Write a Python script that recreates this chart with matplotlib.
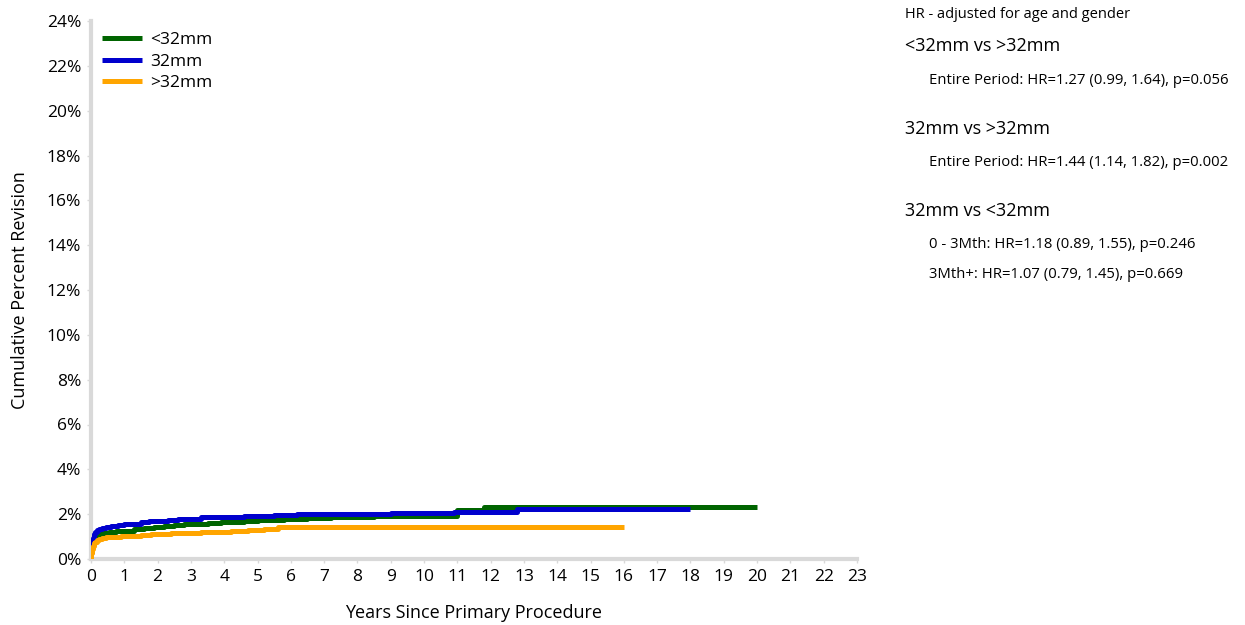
import matplotlib
matplotlib.use("Agg")
import matplotlib.pyplot as plt

plt.rcParams['font.family'] = ['Open Sans', 'DejaVu Sans']

# cumulative percent revision (step curves)
t_small = [0, 0.01, 0.03, 0.05, 0.08, 0.12, 0.17, 0.24, 0.32, 0.42, 0.55, 0.75, 1.0, 1.3, 1.6, 1.9, 2.2, 2.5, 2.8, 3.1, 3.5, 3.9, 4.2, 4.6, 5.0, 5.4, 5.8, 6.5, 7.2, 8.5, 11.0, 11.8, 20.0]
v_small = [0, 0.3, 0.55, 0.72, 0.85, 0.95, 1.03, 1.1, 1.15, 1.18, 1.21, 1.24, 1.27, 1.32, 1.37, 1.42, 1.48, 1.52, 1.55, 1.57, 1.6, 1.63, 1.66, 1.7, 1.73, 1.76, 1.78, 1.83, 1.87, 1.92, 2.17, 2.3, 2.3]

t_32 = [0, 0.01, 0.03, 0.05, 0.08, 0.12, 0.17, 0.24, 0.32, 0.45, 0.6, 0.8, 1.0, 1.2, 1.5, 1.75, 2.0, 2.3, 2.6, 2.9, 3.3, 4.0, 4.6, 5.0, 5.5, 6.2, 9.0, 10.9, 12.8, 18.0]
v_32 = [0, 0.45, 0.75, 0.95, 1.1, 1.2, 1.28, 1.34, 1.39, 1.43, 1.47, 1.51, 1.54, 1.58, 1.63, 1.68, 1.71, 1.74, 1.77, 1.8, 1.86, 1.88, 1.9, 1.93, 1.96, 2.0, 2.05, 2.1, 2.22, 2.22]

t_big = [0, 0.01, 0.03, 0.05, 0.08, 0.12, 0.17, 0.24, 0.32, 0.45, 0.65, 0.9, 1.2, 1.5, 1.8, 2.1, 2.4, 2.8, 3.3, 3.7, 4.2, 4.7, 5.2, 5.6, 16.0]
v_big = [0, 0.25, 0.45, 0.6, 0.7, 0.78, 0.84, 0.89, 0.93, 0.96, 0.99, 1.02, 1.04, 1.07, 1.1, 1.13, 1.15, 1.17, 1.19, 1.22, 1.27, 1.3, 1.33, 1.42, 1.42]

labels = ["<32mm", "32mm", ">32mm"]
colors = ["#006400", "#0000CD", "#FFA500"]

hr_title = "HR - adjusted for age and gender"
hr_groups = [
    ("<32mm vs >32mm", ["Entire Period: HR=1.27 (0.99, 1.64), p=0.056"]),
    ("32mm vs >32mm", ["Entire Period: HR=1.44 (1.14, 1.82), p=0.002"]),
    ("32mm vs <32mm", ["0 - 3Mth: HR=1.18 (0.89, 1.55), p=0.246",
                       "3Mth+: HR=1.07 (0.79, 1.45), p=0.669"]),
]

W, H = 1245, 625
fig = plt.figure(figsize=(W / 100, H / 100), dpi=100)
ax = fig.add_axes([91 / W, 1 - 559 / H, (857 - 91) / W, (559 - 21) / H])

series = [(t_small, v_small), (t_32, v_32), (t_big, v_big)]
for i, ((t, v), lab, c) in enumerate(zip(series, labels, colors)):
    ax.step(t, v, where="post", color=c, lw=3.6, label=lab, zorder=2 + i,
            solid_capstyle="butt")

ax.set_xlim(0, 23)
ax.set_ylim(0, 24)
ax.set_xticks(range(0, 24))
ax.set_yticks(range(0, 25, 2))
ax.set_yticklabels([f"{y}%" for y in range(0, 25, 2)])
ax.tick_params(labelsize=12.5, color="#d9d9d9", length=3, width=1, pad=4)
for s in ["top", "right"]:
    ax.spines[s].set_visible(False)
for s in ["left", "bottom"]:
    ax.spines[s].set_color("#d9d9d9")
    ax.spines[s].set_linewidth(3)
ax.set_xlabel("Years Since Primary Procedure", fontsize=13, labelpad=14)
ax.set_ylabel("Cumulative Percent Revision", fontsize=13, labelpad=13)

leg = ax.legend(loc="upper left", bbox_to_anchor=(0.0, 1.0), frameon=False,
                fontsize=12.5, handlelength=2.3, handletextpad=0.45,
                labelspacing=0.3, borderaxespad=0.25)
for h in leg.get_lines():
    h.set_linewidth(3.6)

x0 = 905 / W
x1 = 929 / W
fig.text(x0, 1 - 14 / H, hr_title, fontsize=10.5, va="center")
ys = [(46, [80]), (129, [162]), (211, [244, 274])]
for (head, lines), (yh, yl) in zip(hr_groups, ys):
    fig.text(x0, 1 - yh / H, head, fontsize=13, va="center")
    for txt, y in zip(lines, yl):
        fig.text(x1, 1 - y / H, txt, fontsize=10.7, va="center")

fig.savefig("out.png", dpi=100)
